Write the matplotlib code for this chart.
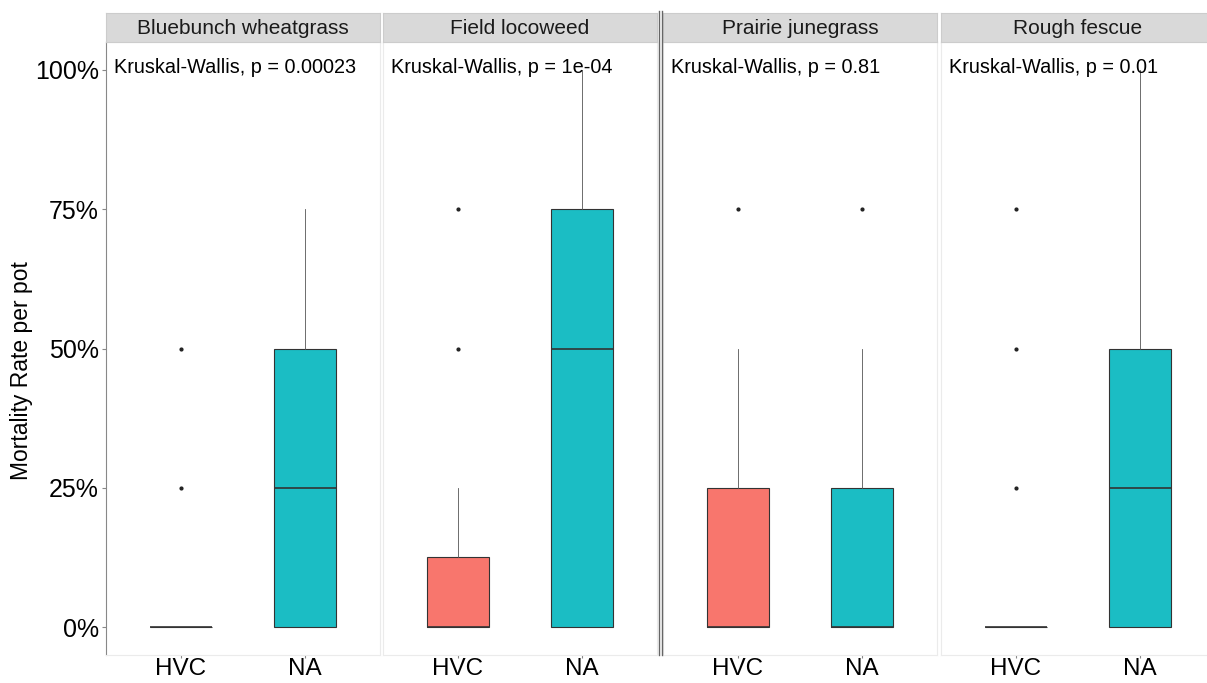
import numpy as np
import matplotlib.pyplot as plt
from matplotlib.lines import Line2D

plt.rcParams['font.family'] = ['Liberation Sans', 'DejaVu Sans']

species = ["Bluebunch wheatgrass", "Field locoweed", "Prairie junegrass", "Rough fescue"]
pvals = ["0.00023", "1e-04", "0.81", "0.01"]
groups = ["HVC", "NA"]
colors = ["#F8766D", "#1BBDC4"]

# box stats per species and group: (whislo, q1, med, q3, whishi)
stats_hvc = [(0, 0, 0, 0, 0), (0, 0, 0, 12.5, 25), (0, 0, 0, 25, 50), (0, 0, 0, 0, 0)]
stats_na = [(0, 0, 25, 50, 75), (0, 0, 50, 75, 100), (0, 0, 0, 25, 50), (0, 0, 25, 50, 100)]
fliers_hvc = [[25, 50], [50, 75], [75], [25, 50, 75]]
fliers_na = [[], [], [75], []]

W, H = 1207, 683
fig = plt.figure(figsize=(W / 100, H / 100), dpi=100)
lefts = [106, 383, 663, 941]
pw = 274
top, bottom, strip_top = 42, 655, 13

for i, sp in enumerate(species):
    ax = fig.add_axes([lefts[i] / W, 1 - bottom / H, pw / W, (bottom - top) / H])
    bxp = []
    for g, st, fl in [(0, stats_hvc[i], fliers_hvc[i]), (1, stats_na[i], fliers_na[i])]:
        bxp.append(dict(whislo=st[0], q1=st[1], med=st[2], q3=st[3], whishi=st[4],
                        fliers=fl, label=groups[g]))
    b = ax.bxp(bxp, positions=[1, 2], widths=0.5, patch_artist=True, showcaps=False,
               boxprops=dict(edgecolor="#333333", linewidth=0.8),
               medianprops=dict(color="#333333", linewidth=1.2),
               whiskerprops=dict(color="#555555", linewidth=0.6),
               flierprops=dict(marker="o", markersize=2, markerfacecolor="#222222",
                               markeredgecolor="#222222"))
    for patch, c in zip(b["boxes"], colors):
        patch.set_facecolor(c)
    ax.set_xlim(0.4, 2.6)
    ax.set_ylim(-5, 105)
    ax.set_yticks([0, 25, 50, 75, 100])
    ax.set_xticks([1, 2])
    ax.set_xticklabels(groups, fontsize=17.5)
    ax.tick_params(axis="x", length=2, color="#888888", pad=0)
    if i == 0:
        ax.set_yticklabels(["0%", "25%", "50%", "75%", "100%"], fontsize=18)
        ax.tick_params(axis="y", length=3, color="#888888", pad=2)
    else:
        ax.tick_params(axis="y", left=False, labelleft=False)
    for s in ax.spines.values():
        s.set_color("#EBEBEB")
        s.set_linewidth(0.8)
    if i == 0:
        ax.spines["left"].set_color("#888888")
    ax.text(0.03, 0.958, "Kruskal-Wallis, p = " + pvals[i], transform=ax.transAxes,
            fontsize=14.3, va="center", ha="left")
    # facet strip
    sax = fig.add_axes([lefts[i] / W, 1 - top / H, pw / W, (top - strip_top) / H])
    sax.set_facecolor("#D9D9D9")
    sax.set_xticks([])
    sax.set_yticks([])
    for s in sax.spines.values():
        s.set_color("#CCCCCC")
    sax.text(0.5, 0.45, sp, transform=sax.transAxes, ha="center", va="center", fontsize=15,
             color="#1A1A1A")

fig.text(22 / W, 1 - 371 / H, "Mortality Rate per pot", rotation=90, fontsize=16.5,
         ha="center", va="center")

# double separator between 2nd and 3rd panel
for xp in [659, 662]:
    fig.add_artist(Line2D([xp / W, xp / W], [1 - bottom / H, 1 - 11 / H],
                          color="#666666", linewidth=1))

fig.savefig("out.png", dpi=100)
